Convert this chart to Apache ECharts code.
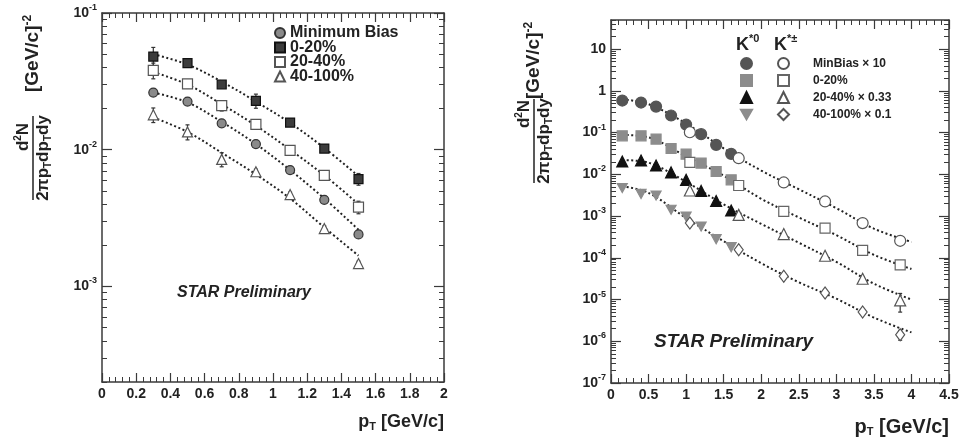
<!DOCTYPE html>
<html>
<head>
    <meta charset="utf-8" />
    <title>K* spectra</title>
    <style>
        html, body { margin: 0; padding: 0; background: #fff; }
        #main { width: 959px; height: 437px; }
    </style>
</head>
<body>
<div id="main"></div>
<script src="https://cdn.jsdelivr.net/npm/echarts@6/dist/echarts.min.js"></script>
<script type="text/javascript">
    // left panel: centrality classes (K*0 + K*bar0)
    var ptL = [0.3, 0.5, 0.7, 0.9, 1.1, 1.3, 1.5];
    var mbL = [0.0262, 0.0225, 0.0156, 0.0110, 0.0071, 0.0043, 0.0024];
    var c020L = [0.048, 0.043, 0.030, 0.0228, 0.0158, 0.0102, 0.0061];
    var c2040L = [0.038, 0.0303, 0.021, 0.0153, 0.0099, 0.0065, 0.0038];
    var c40100L = [0.018, 0.0135, 0.0085, 0.0069, 0.0047, 0.00265, 0.00147];
    var errMbL = [0.0012, 0.0008, 0.0006, 0.0004, 0.0003, 0.0002, 0.0001];
    var err020L = [0.008, 0.0015, 0.001, 0.0027, 0.0006, 0.0004, 0.0006];
    var err2040L = [0.005, 0.002, 0.0018, 0.0006, 0.0004, 0.0003, 0.0004];
    var err40100L = [0.0022, 0.0017, 0.001, 0.0003, 0.0002, 0.00012, 0.00006];
    var fitMbL = [0.0262, 0.0222, 0.0160, 0.0110, 0.0071, 0.0044, 0.0026];
    var fit020L = [0.050, 0.042, 0.0315, 0.0225, 0.0157, 0.0103, 0.0064];
    var fit2040L = [0.037, 0.030, 0.0215, 0.0150, 0.0100, 0.0065, 0.0040];
    var fit40100L = [0.0172, 0.0135, 0.0095, 0.0066, 0.0044, 0.0027, 0.00168];
    var namesL = ['Minimum Bias', '0-20%', '20-40%', '40-100%'];

    // right panel: K*0 (filled) and K*+- (open), scaled
    var ptK0 = [0.15, 0.4, 0.6, 0.8, 1.0, 1.2, 1.4, 1.6];
    var k0MB = [0.587, 0.526, 0.42, 0.257, 0.156, 0.092, 0.051, 0.031];
    var k0C020 = [0.084, 0.084, 0.070, 0.0416, 0.0305, 0.0186, 0.0117, 0.0074];
    var k0C2040 = [0.0203, 0.0215, 0.0163, 0.0111, 0.0074, 0.0040, 0.0023, 0.00136];
    var k0C40100 = [0.0047, 0.0034, 0.0031, 0.00142, 0.00098, 0.00056, 0.00028, 0.00018];
    var ptKc = [1.05, 1.7, 2.3, 2.85, 3.35, 3.85];
    var kcMB = [0.102, 0.0244, 0.0064, 0.00224, 0.00068, 0.000256];
    var kcC020 = [0.0193, 0.0054, 0.00129, 0.000515, 0.00015, 0.000068];
    var kcC2040 = [0.0041, 0.00107, 0.00037, 0.000112, 0.0000315, 0.0000095];
    var kcC40100 = [0.00068, 0.000156, 0.000036, 0.0000143, 0.000005, 0.00000144];
    var errKc2040 = [0.0002, 0.00005, 0.00002, 0.00001, 0.000004, 0.0000045];
    var errKc40100 = [0.00003, 0.00001, 0.000003, 0.0000015, 0.0000006, 0.00000038];
    var ptFit = [0.15, 0.5, 1.0, 1.5, 2.0, 2.5, 3.0, 3.5, 4.0];
    var fitMB = [0.63, 0.48, 0.165, 0.042, 0.0123, 0.0044, 0.00155, 0.0005, 0.00024];
    var fitC020 = [0.088, 0.077, 0.027, 0.0093, 0.0026, 0.00093, 0.00035, 0.000118, 0.000054];
    var fitC2040 = [0.022, 0.019, 0.0066, 0.0019, 0.00065, 0.00023, 0.00008, 0.000024, 0.00001];
    var fitC40100 = [0.0052, 0.0036, 0.0009, 0.00025, 0.000074, 0.000026, 0.0000105, 0.0000037, 0.00000163];
    var namesK0 = ['K0 MB', 'K0 020', 'K0 2040', 'K0 40100'];
    var namesKc = ['Kc MB', 'Kc 020', 'Kc 2040', 'Kc 40100'];
    var labelsR = ['MinBias \u00d7 10', '0-20%', '20-40% \u00d7 0.33', '40-100% \u00d7 0.1'];

    // axis ticks
    var majorsL = [1e-3, 1e-2, 1e-1];
    var majorsR = [1e-7, 1e-6, 1e-5, 1e-4, 1e-3, 1e-2, 1e-1, 1, 10];

    var FONT = 'Liberation Sans';
    var INK = '#3a3a3a';

    function zip(xs, ys) {
        return xs.map(function (x, i) { return [x, ys[i]]; });
    }

    function minorsOf(lo, hi) {
        var out = [];
        for (var e = lo; e < hi; e++) {
            for (var m = 2; m <= 9; m++) out.push(m * Math.pow(10, e));
        }
        return out;
    }

    function powLabel(plain) {
        return function (v) {
            var l = Math.log10(v), e = Math.round(l);
            if (Math.abs(l - e) > 1e-6) return '';
            if (plain && e === 0) return '1';
            if (plain && e === 1) return '10';
            return '10{sup|' + e + '}';
        };
    }

    var supStyle = { fontSize: 9, fontWeight: 'bold', fontFamily: FONT, color: '#222', lineHeight: 10, verticalAlign: 'top' };
    var subStyle = { fontSize: 11, fontWeight: 'bold', fontFamily: FONT, color: '#222', lineHeight: 10, verticalAlign: 'bottom' };

    function xAxes(grid, max, interval, nameGap, nameSize) {
        var base = {
            gridIndex: grid, type: 'value', min: 0, max: max, interval: interval,
            axisLine: { onZero: false, lineStyle: { color: INK, width: 1.5 } },
            axisTick: { inside: true, length: 9, lineStyle: { color: INK, width: 1.2 } },
            minorTick: { show: true, splitNumber: 5, length: 5, lineStyle: { color: INK, width: 1 } },
            splitLine: { show: false }
        };
        var bottom = Object.assign({}, base, {
            position: 'bottom',
            name: 'p{sub|T} [GeV/c]', nameLocation: 'end', nameGap: 0, nameMoveOverlap: false,
            nameTextStyle: {
                fontFamily: FONT, fontWeight: 'bold', fontSize: nameSize, color: '#222',
                align: 'right', verticalAlign: 'top', lineHeight: 20,
                padding: [nameGap, 0, 0, 0], rich: { sub: subStyle }
            },
            axisLabel: { margin: 5, fontFamily: FONT, fontWeight: 'bold', fontSize: 14, color: '#222' }
        });
        var top = Object.assign({}, base, { position: 'top', axisLabel: { show: false } });
        return [bottom, top];
    }

    function yAxes(grid, min, max, majors, minors, plain) {
        var out = [];
        ['left', 'right'].forEach(function (pos) {
            out.push({
                gridIndex: grid, type: 'log', min: min, max: max, position: pos,
                axisLine: { onZero: false, lineStyle: { color: INK, width: 1.5 } },
                axisTick: { inside: true, length: 10, customValues: majors, lineStyle: { color: INK, width: 1.2 } },
                axisLabel: pos === 'left' ? {
                    customValues: majors, formatter: powLabel(plain), margin: 5,
                    fontFamily: FONT, fontWeight: 'bold', fontSize: 14, color: '#222', lineHeight: 20,
                    rich: { sup: supStyle }
                } : { show: false },
                splitLine: { show: false }
            });
            out.push({
                gridIndex: grid, type: 'log', min: min, max: max, position: pos,
                axisLine: { show: false, onZero: false },
                axisTick: { inside: true, length: 5, customValues: minors, lineStyle: { color: INK, width: 1 } },
                axisLabel: { show: false },
                splitLine: { show: false }
            });
        });
        return out;
    }

    function pts(name, xi, yi, xs, ys, symbol, size, fill, stroke) {
        return {
            name: name, type: 'scatter', xAxisIndex: xi, yAxisIndex: yi,
            data: zip(xs, ys), symbol: symbol, symbolSize: size, z: 4,
            itemStyle: { color: fill, borderColor: stroke, borderWidth: 1.2, opacity: 1 }
        };
    }

    function errs(xi, yi, xs, ys, es) {
        return {
            type: 'custom', xAxisIndex: xi, yAxisIndex: yi, z: 3, silent: true,
            encode: { x: 0, y: [1, 2] },
            data: xs.map(function (x, i) { return [x, ys[i] - es[i], ys[i] + es[i]]; }),
            renderItem: function (params, api) {
                var lo = api.coord([api.value(0), api.value(1)]);
                var hi = api.coord([api.value(0), api.value(2)]);
                var st = { stroke: '#333', lineWidth: 1.2 };
                return {
                    type: 'group', children: [
                        { type: 'line', shape: { x1: lo[0], y1: lo[1], x2: hi[0], y2: hi[1] }, style: st },
                        { type: 'line', shape: { x1: lo[0] - 2, y1: lo[1], x2: lo[0] + 2, y2: lo[1] }, style: st },
                        { type: 'line', shape: { x1: hi[0] - 2, y1: hi[1], x2: hi[0] + 2, y2: hi[1] }, style: st }
                    ]
                };
            }
        };
    }

    function fit(xi, yi, xs, ys) {
        return {
            type: 'line', xAxisIndex: xi, yAxisIndex: yi, data: zip(xs, ys),
            symbol: 'none', smooth: 0.35, silent: true, z: 2,
            lineStyle: { color: '#222', width: 2, type: [2, 2.5] }
        };
    }

    var TRI_DOWN = 'path://M0,0 L2,0 L1,1.732 Z';

    function yTitle(cx, cy, numShift, unitX) {
        var txt = { fontFamily: FONT, fontWeight: 'bold', fontSize: 17, fill: '#222' };
        return {
            type: 'group', x: cx, y: cy, rotation: Math.PI / 2,
            children: [
                { type: 'text', x: numShift, y: 0, style: Object.assign({}, txt, {
                    text: 'd{sup|2}N', align: 'center', verticalAlign: 'bottom', lineHeight: 20,
                    rich: { sup: { fontSize: 10, fontWeight: 'bold', fontFamily: FONT, lineHeight: 10, verticalAlign: 'top' } }
                }) },
                { type: 'line', shape: { x1: -42, y1: 0, x2: 42, y2: 0 }, style: { stroke: '#222', lineWidth: 1.5 } },
                { type: 'text', x: 0, y: 0, style: Object.assign({}, txt, {
                    text: '2\u03c0p{sub|T}dp{sub|T}dy', align: 'center', verticalAlign: 'top', lineHeight: 20,
                    rich: { sub: { fontSize: 10, fontWeight: 'bold', fontFamily: FONT, lineHeight: 10, verticalAlign: 'bottom' } }
                }) },
                { type: 'text', x: unitX, y: 0, style: Object.assign({}, txt, {
                    text: '[GeV/c]{sup|-2}', fontSize: 19, align: 'left', verticalAlign: 'middle', lineHeight: 22,
                    rich: { sup: { fontSize: 12, fontWeight: 'bold', fontFamily: FONT, lineHeight: 10, verticalAlign: 'top' } }
                }) }
            ]
        };
    }

    var chartDom = document.getElementById('main');
    var myChart = echarts.init(chartDom);
    var option;

    var series = [
        fit(0, 0, ptL, fitMbL), fit(0, 0, ptL, fit020L), fit(0, 0, ptL, fit2040L), fit(0, 0, ptL, fit40100L),
        errs(0, 0, ptL, mbL, errMbL), errs(0, 0, ptL, c020L, err020L),
        errs(0, 0, ptL, c2040L, err2040L), errs(0, 0, ptL, c40100L, err40100L),
        pts(namesL[0], 0, 0, ptL, mbL, 'circle', 9, '#8a8a8a', '#333'),
        pts(namesL[1], 0, 0, ptL, c020L, 'rect', 9, '#3c3c3c', '#111'),
        pts(namesL[2], 0, 0, ptL, c2040L, 'rect', 10, '#fff', '#555'),
        pts(namesL[3], 0, 0, ptL, c40100L, 'triangle', 10, '#fff', '#555'),

        fit(2, 4, ptFit, fitMB), fit(2, 4, ptFit, fitC020), fit(2, 4, ptFit, fitC2040), fit(2, 4, ptFit, fitC40100),
        errs(2, 4, ptKc, kcC2040, errKc2040), errs(2, 4, ptKc, kcC40100, errKc40100),
        pts(namesK0[0], 2, 4, ptK0, k0MB, 'circle', 11, '#555', '#555'),
        pts(namesK0[1], 2, 4, ptK0, k0C020, 'rect', 10, '#8c8c8c', '#8c8c8c'),
        pts(namesK0[2], 2, 4, ptK0, k0C2040, 'triangle', 11, '#111', '#111'),
        pts(namesK0[3], 2, 4, ptK0, k0C40100, TRI_DOWN, [10, 9], '#8c8c8c', '#8c8c8c'),
        pts(namesKc[0], 2, 4, ptKc, kcMB, 'circle', 11, '#fff', '#555'),
        pts(namesKc[1], 2, 4, ptKc, kcC020, 'rect', 10, '#fff', '#666'),
        pts(namesKc[2], 2, 4, ptKc, kcC2040, 'triangle', 11, '#fff', '#555'),
        pts(namesKc[3], 2, 4, ptKc, kcC40100, 'diamond', [9, 12], '#fff', '#555')
    ];

    option = {
        animation: false,
        backgroundColor: '#fff',
        grid: [
            { left: 102, top: 13, width: 342, height: 369, outerBoundsMode: 'none', containLabel: false },
            { left: 611, top: 20, width: 338, height: 363, outerBoundsMode: 'none', containLabel: false }
        ],
        xAxis: xAxes(0, 2, 0.2, 30, 18).concat(xAxes(1, 4.5, 0.5, 34, 20)),
        yAxis: yAxes(0, 2e-4, 0.1, majorsL, minorsOf(-4, -1), false)
            .concat(yAxes(1, 1e-7, 50, majorsR, minorsOf(-7, 2), true)),
        legend: [
            {
                data: namesL, orient: 'vertical', left: 269, top: 20, itemGap: -1.5,
                itemWidth: 10, itemHeight: 10, selectedMode: false,
                textStyle: { fontFamily: FONT, fontWeight: 'bold', fontSize: 16, color: '#222', lineHeight: 14 }
            },
            {
                data: namesK0, orient: 'vertical', left: 735, top: 50, itemGap: 0,
                itemWidth: 11, itemHeight: 11, selectedMode: false, formatter: function () { return ' '; },
                textStyle: { fontFamily: FONT, fontSize: 12, lineHeight: 17 }
            },
            {
                data: namesKc, orient: 'vertical', left: 772, top: 50, itemGap: 0,
                itemWidth: 11, itemHeight: 11, selectedMode: false,
                formatter: function (name) { return labelsR[namesKc.indexOf(name)]; },
                textStyle: { fontFamily: FONT, fontWeight: 'bold', fontSize: 12, color: '#222', lineHeight: 17, padding: [0, 0, 0, 19] }
            }
        ],
        graphic: [
            yTitle(33, 158, 21, 66),
            yTitle(534, 141, 27, 42),
            {
                type: 'text', left: 177, top: 285,
                style: { text: 'STAR Preliminary', fontFamily: FONT, fontWeight: 'bold', fontStyle: 'italic', fontSize: 16, fill: '#222' }
            },
            {
                type: 'text', left: 654, top: 332,
                style: { text: 'STAR Preliminary', fontFamily: FONT, fontWeight: 'bold', fontStyle: 'italic', fontSize: 19, fill: '#222' }
            },
            {
                type: 'text', left: 736, top: 33,
                style: {
                    text: 'K{sup|*0}', fontFamily: FONT, fontWeight: 'bold', fontSize: 18, fill: '#222', lineHeight: 24,
                    rich: { sup: { fontSize: 11, fontWeight: 'bold', fontFamily: FONT, lineHeight: 12, verticalAlign: 'top' } }
                }
            },
            {
                type: 'text', left: 774, top: 33,
                style: {
                    text: 'K{sup|*\u00b1}', fontFamily: FONT, fontWeight: 'bold', fontSize: 18, fill: '#222', lineHeight: 24,
                    rich: { sup: { fontSize: 11, fontWeight: 'bold', fontFamily: FONT, lineHeight: 12, verticalAlign: 'top' } }
                }
            }
        ],
        series: series
    };

    option && myChart.setOption(option);
</script>
</body>
</html>
